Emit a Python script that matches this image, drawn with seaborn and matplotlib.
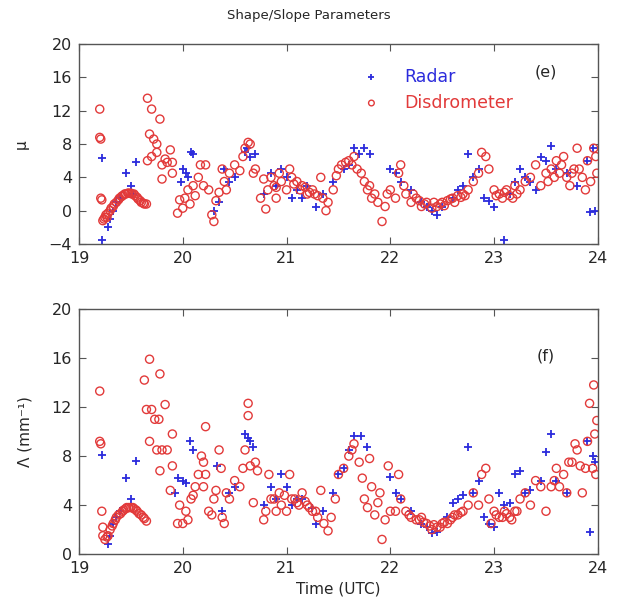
import matplotlib
matplotlib.use("Agg")
import matplotlib.pyplot as plt
import seaborn as sns
import pandas as pd

# ---------------- data ----------------
# Panel (e): mu, disdrometer
mu_dis_t = [19.2, 19.2, 19.21, 19.21, 19.22, 19.23, 19.24, 19.25, 19.26, 19.27, 19.28, 19.3, 19.31,
            19.33, 19.34, 19.36, 19.38, 19.39, 19.41, 19.42, 19.44, 19.45, 19.47, 19.48, 19.5, 19.51,
            19.53, 19.54, 19.56, 19.57, 19.59, 19.6, 19.62, 19.63, 19.65,
            19.66, 19.7, 19.78, 19.68, 19.72, 19.75, 19.66, 19.7, 19.75, 19.8, 19.83, 19.85, 19.88,
            19.8, 19.9, 19.9,
            19.95, 19.97, 20.0, 20.02, 20.05, 20.07, 20.1, 20.12, 20.15, 20.17, 20.2, 20.22, 20.25,
            20.28, 20.3, 20.32, 20.35, 20.38, 20.4, 20.42, 20.45, 20.5, 20.55, 20.58, 20.6, 20.63,
            20.65, 20.68, 20.7, 20.75, 20.78, 20.8, 20.82, 20.85, 20.88, 20.9, 20.93, 20.95, 21.0,
            21.03, 21.05, 21.1, 21.13, 21.15, 21.2, 21.25, 21.3, 21.33, 21.35, 21.38, 21.4, 21.45,
            21.48, 21.5, 21.53, 21.57, 21.6, 21.63, 21.65, 21.68, 21.72, 21.75, 21.78, 21.8, 21.82,
            21.85, 21.88, 21.92, 21.95, 21.97, 22.0, 22.05, 22.08, 22.1, 22.13, 22.15, 22.2, 22.25,
            22.3, 22.35, 22.4, 22.45, 22.5, 22.55, 22.6, 22.65, 22.7, 22.75, 22.8, 22.85, 22.88,
            22.92, 22.95, 23.0, 23.05, 23.08, 23.12, 23.15, 23.2, 23.25, 23.3, 23.35, 23.4, 23.45,
            23.5, 23.55, 23.6, 23.63, 23.67, 23.7, 23.73, 23.77, 23.8, 23.85, 23.88, 23.9, 23.93,
            23.96, 23.98, 23.99,
            20.9, 21.07, 21.18, 21.22, 21.27, 22.22, 22.28, 22.33, 22.42, 22.48, 22.52, 22.58,
            22.62, 22.68, 22.72, 23.02, 23.1, 23.18, 23.22, 23.52, 23.58, 23.65, 23.75, 23.82]
mu_dis = [12.2, 8.8, 8.6, 1.5, 1.3, -1.2, -1.0, -0.8, -0.5, -0.8, -0.3, 0.0, 0.3,
          0.5, 0.8, 1.0, 1.3, 1.5, 1.7, 1.8, 2.0, 2.0, 2.1, 2.1, 2.1, 2.0,
          2.0, 1.8, 1.6, 1.4, 1.2, 1.0, 0.9, 0.8, 0.8,
          13.5, 12.2, 11.0, 9.2, 8.6, 8.0, 6.0, 6.5, 7.0, 5.5, 6.2, 5.8, 7.3,
          3.8, 4.5, 5.8,
          -0.3, 1.3, 0.3, 1.5, 2.5, 0.8, 3.0, 1.8, 4.0, 5.5, 3.0, 5.5, 2.5,
          -0.5, -1.3, 1.2, 2.2, 5.0, 3.5, 2.5, 4.5, 5.5, 4.8, 6.5, 7.5, 8.2,
          8.0, 4.5, 5.0, 1.5, 3.8, 0.2, 2.5, 4.0, 3.0, 1.5, 4.5, 3.5, 2.5,
          5.0, 4.0, 3.5, 2.5, 3.0, 2.0, 2.5, 1.8, 4.0, 1.5, 0.0, 1.0, 2.5,
          4.2, 5.0, 5.5, 5.8, 6.0, 5.5, 6.5, 5.0, 4.5, 3.5, 2.5, 3.0, 1.5,
          2.0, 1.0, -1.3, 0.5, 2.0, 2.5, 1.5, 4.5, 5.5, 3.0, 2.0, 1.0, 1.5,
          0.5, 1.0, 0.3, 0.5, 1.0, 1.2, 1.5, 1.8, 2.0, 2.5, 3.5, 4.5, 7.0,
          6.5, 5.0, 2.5, 2.0, 1.5, 2.5, 1.8, 3.0, 2.5, 3.5, 4.0, 5.5, 3.0,
          4.5, 5.0, 6.0, 4.5, 6.5, 4.0, 3.0, 5.0, 7.5, 4.0, 2.5, 6.0, 3.5,
          7.5, 6.5, 4.5,
          2.8, 3.2, 2.8, 2.2, 2.0, 2.0, 1.2, 0.8, 1.0, 0.8, 0.6, 1.4,
          1.0, 1.6, 1.8, 1.8, 2.2, 1.5, 2.0, 3.5, 4.0, 5.5, 4.5, 5.0]

# Panel (e): mu, radar
mu_rad_t = [19.22, 19.22, 19.28, 19.3, 19.33, 19.36, 19.4, 19.45, 19.5, 19.55, 19.52, 20.0, 20.03,
            20.05, 20.08, 20.1, 19.98, 20.3, 20.35, 20.4, 20.45, 20.5, 20.6, 20.62, 20.65, 20.7,
            20.78, 20.85, 20.9, 20.95, 21.0, 21.05, 21.1, 21.15, 21.2, 21.28, 21.35, 21.45, 21.55,
            21.6, 21.65, 21.7, 21.75, 21.8, 22.0, 22.05, 22.1, 22.2, 22.3, 22.35, 22.4, 22.45, 22.5,
            22.6, 22.65, 22.7, 22.75, 22.8, 22.85, 22.9, 22.95, 23.0, 23.1, 23.15, 23.2, 23.25, 23.3,
            23.35, 23.4, 23.45, 23.5, 23.55, 23.6, 23.7, 23.8, 23.9, 23.92, 23.95, 23.97]
mu_rad = [6.3, -3.5, -2.0, -1.0, 0.0, 1.0, 1.5, 4.5, 3.0, 5.8, 2.0, 5.0, 4.5,
          4.0, 7.0, 6.8, 3.5, 0.0, 1.0, 5.0, 3.5, 4.0, 7.0, 7.5, 6.5, 6.8,
          2.0, 4.5, 3.0, 5.0, 4.0, 1.5, 2.5, 1.5, 3.0, 0.5, 2.0, 3.5, 5.0,
          5.5, 7.5, 6.8, 7.5, 6.8, 5.0, 4.5, 3.5, 2.5, 1.0, 0.5, 0.0, -0.5, 0.5,
          1.5, 2.5, 3.0, 6.8, 4.0, 5.0, 1.5, 1.2, 0.5, -3.5, 2.0, 3.5, 5.0, 4.0,
          3.5, 2.5, 6.5, 6.0, 7.8, 5.0, 4.5, 3.0, 6.0, -0.2, 7.5, 0.0]

# Panel (f): Lambda, disdrometer
lam_dis_t = [19.2, 19.2, 19.21, 19.22, 19.23, 19.23, 19.25, 19.27, 19.28, 19.3, 19.32, 19.33, 19.35,
             19.36, 19.38, 19.4, 19.42, 19.43, 19.45, 19.46, 19.48, 19.5, 19.52, 19.53, 19.55,
             19.56, 19.58, 19.6, 19.62, 19.63, 19.65,
             19.63, 19.68, 19.78, 19.65, 19.7, 19.73, 19.77, 19.83, 19.85, 19.68, 19.75, 19.8,
             19.78, 19.9, 19.9, 19.88,
             19.95, 19.97, 20.0, 20.03, 20.05, 20.08, 20.1, 20.12, 20.15, 20.18, 20.2, 20.2, 20.22,
             20.22, 20.25, 20.28, 20.3, 20.32, 20.35, 20.37, 20.38, 20.4, 20.42, 20.45, 20.5, 20.55,
             20.58, 20.6, 20.63, 20.63, 20.65, 20.68, 20.7, 20.72, 20.78, 20.8, 20.83, 20.85, 20.9,
             20.93, 20.95, 21.0, 21.03, 21.05, 21.1, 21.15, 21.2, 21.25, 21.3, 21.33, 21.36, 21.4,
             21.43, 21.47, 21.5, 21.55, 21.6, 21.63, 21.65, 21.7, 21.73, 21.75, 21.78, 21.8, 21.82,
             21.85, 21.88, 21.9, 21.92, 21.95, 21.98, 22.0, 22.05, 22.08, 22.1, 22.15, 22.2, 22.25,
             22.3, 22.35, 22.4, 22.45, 22.5, 22.55, 22.6, 22.65, 22.7, 22.75, 22.8, 22.85, 22.88,
             22.92, 22.95, 22.97, 23.0, 23.05, 23.1, 23.15, 23.2, 23.25, 23.3, 23.35, 23.4, 23.45,
             23.5, 23.55, 23.6, 23.63, 23.67, 23.7, 23.75, 23.78, 23.8, 23.83, 23.85, 23.88, 23.9,
             23.92, 23.95, 23.96, 23.97, 23.99, 23.98,
             20.88, 20.98, 21.08, 21.12, 21.18, 21.22, 21.28, 22.18, 22.28, 22.32, 22.38, 22.42,
             22.48, 22.52, 22.58, 22.62, 22.68, 23.02, 23.08, 23.12, 23.17, 23.22, 23.58, 23.72]
lam_dis = [13.3, 9.2, 9.0, 3.5, 2.2, 1.5, 1.2, 1.4, 1.5, 2.0, 2.3, 2.5, 2.8,
           3.0, 3.2, 3.3, 3.5, 3.6, 3.7, 3.8, 3.8, 3.8, 3.8, 3.7, 3.6,
           3.5, 3.3, 3.2, 3.0, 2.9, 2.7,
           14.2, 15.9, 14.7, 11.8, 11.8, 11.0, 11.0, 12.2, 8.5, 9.2, 8.5, 8.5,
           6.8, 9.8, 7.2, 5.2,
           2.5, 4.0, 2.5, 3.5, 2.8, 4.5, 4.8, 5.5, 6.5, 8.0, 7.5, 5.5, 6.5,
           10.4, 3.5, 3.2, 4.5, 5.2, 8.5, 7.0, 3.0, 2.5, 5.0, 4.5, 6.0, 5.5,
           7.0, 8.5, 12.3, 11.3, 7.2, 4.2, 7.5, 6.8, 2.8, 3.5, 6.5, 4.5, 3.5,
           5.0, 4.0, 3.5, 6.5, 4.5, 4.2, 5.0, 4.0, 3.5, 3.0, 5.2, 2.5, 1.9,
           3.0, 4.5, 6.5, 7.0, 8.0, 8.5, 9.0, 7.5, 6.2, 4.5, 3.8, 7.8, 5.5,
           3.2, 4.2, 5.0, 1.2, 2.8, 7.2, 3.5, 3.5, 6.5, 4.5, 3.5, 3.0, 2.8,
           3.0, 2.5, 2.0, 2.2, 2.5, 2.5, 3.0, 3.2, 3.5, 4.0, 5.0, 4.0, 6.5,
           7.0, 4.5, 2.5, 3.5, 3.0, 3.5, 3.0, 3.5, 4.5, 5.0, 4.0, 6.0, 5.5,
           3.5, 5.5, 7.0, 5.5, 6.5, 5.0, 7.5, 9.0, 8.5, 7.2, 5.0, 7.0, 9.2,
           12.3, 7.0, 13.8, 9.8, 10.9, 6.5,
           4.5, 4.8, 4.5, 4.0, 4.3, 3.8, 3.5, 3.2, 2.8, 2.6, 2.3, 2.4,
           2.2, 2.6, 2.8, 3.2, 3.4, 3.2, 3.0, 3.3, 2.8, 3.5, 6.0, 7.5]

# Panel (f): Lambda, radar
lam_rad_t = [19.22, 19.28, 19.3, 19.33, 19.36, 19.4, 19.45, 19.5, 19.55, 19.93, 19.95, 20.0, 20.03,
             20.07, 20.1, 20.33, 20.38, 20.45, 20.5, 20.6, 20.63, 20.65, 20.68, 20.78, 20.85, 20.9,
             20.95, 21.0, 21.05, 21.1, 21.15, 21.25, 21.28, 21.35, 21.45, 21.5, 21.55, 21.6, 21.65,
             21.72, 21.78, 22.0, 22.05, 22.1, 22.2, 22.3, 22.35, 22.4, 22.45, 22.55, 22.6, 22.65,
             22.7, 22.75, 22.8, 22.85, 22.9, 22.95, 23.0, 23.05, 23.1, 23.15, 23.2, 23.25, 23.3,
             23.35, 23.45, 23.5, 23.55, 23.6, 23.7, 23.9, 23.92, 23.95, 23.97]
lam_rad = [8.1, 0.8, 1.5, 2.5, 3.0, 3.5, 6.2, 4.5, 7.6, 5.0, 6.2, 6.0, 5.8,
           9.2, 8.5, 7.2, 3.5, 5.0, 5.5, 9.8, 9.5, 9.2, 8.7, 4.0, 5.5, 4.5,
           6.5, 5.5, 4.0, 4.5, 4.5, 3.8, 2.5, 3.5, 5.0, 6.5, 7.0, 8.5, 9.6,
           9.6, 8.7, 6.3, 5.0, 4.5, 3.5, 2.5, 2.2, 1.7, 1.8, 3.0, 4.2, 4.5,
           4.8, 8.7, 5.0, 6.0, 3.0, 2.5, 2.2, 5.0, 4.0, 4.2, 6.5, 6.8, 5.0,
           5.2, 6.0, 8.3, 9.8, 6.0, 5.0, 9.2, 1.8, 8.0, 7.5]

x_ticks = [19, 20, 21, 22, 23, 24]
mu_ticks = [-4, 0, 4, 8, 12, 16, 20]
lam_ticks = [0, 4, 8, 12, 16, 20]

title = "Shape/Slope Parameters"
labels = ["Radar", "Disdrometer"]

# ---------------- plotting ----------------
sns.set_style("ticks")
plt.rcParams["font.family"] = ["DejaVu Sans"]

BLUE = "#2b2bdc"
RED = "#e23a3a"
AX_COL = "#555555"

fig = plt.figure(figsize=(6.17, 6.13), dpi=100)
ax1 = fig.add_axes([0.128, 0.602, 0.841, 0.326])
ax2 = fig.add_axes([0.128, 0.096, 0.841, 0.40])


def panel(ax, rt, rv, dt, dv, yticks, ylim, ylabel, tag, tag_y, legend):
    sns.scatterplot(x=rt, y=rv, ax=ax, marker="+", color=BLUE, s=36,
                    linewidth=1.3, label=labels[0] if legend else None)
    sns.scatterplot(x=dt, y=dv, ax=ax, marker="o", facecolor="none",
                    edgecolor=RED, s=34, linewidth=1.0,
                    label=labels[1] if legend else None)
    ax.set_xlim(19, 24)
    ax.set_ylim(*ylim)
    ax.set_xticks(x_ticks)
    ax.set_yticks(yticks)
    ax.tick_params(direction="in", length=5, width=0.8, color=AX_COL,
                   top=True, right=True, labelsize=11.5, pad=5)
    for sp in ax.spines.values():
        sp.set_color(AX_COL)
        sp.set_linewidth(1.0)
    ax.set_ylabel(ylabel, fontsize=11, labelpad=14)
    ax.text(23.5, tag_y, tag, fontsize=11.5, ha="center", va="center")
    if legend:
        ax.legend(loc="upper left", bbox_to_anchor=(0.50, 0.96),
                  frameon=False, fontsize=12.5, handletextpad=0.9,
                  labelspacing=0.45, markerscale=0.7,
                  labelcolor=[BLUE, RED])
    else:
        lg = ax.get_legend()
        if lg is not None:
            lg.remove()


panel(ax1, mu_rad_t, mu_rad, mu_dis_t, mu_dis, mu_ticks, (-4, 20), "μ",
      "(e)", 16.6, True)
panel(ax2, lam_rad_t, lam_rad, lam_dis_t, lam_dis, lam_ticks, (0, 20),
      "Λ (mm⁻¹)", "(f)", 16.2, False)

ax1.set_xlabel("")
ax2.set_xlabel("Time (UTC)", fontsize=11)
fig.suptitle(title, fontsize=9.5, y=0.985)

fig.savefig("out.png", dpi=100)
